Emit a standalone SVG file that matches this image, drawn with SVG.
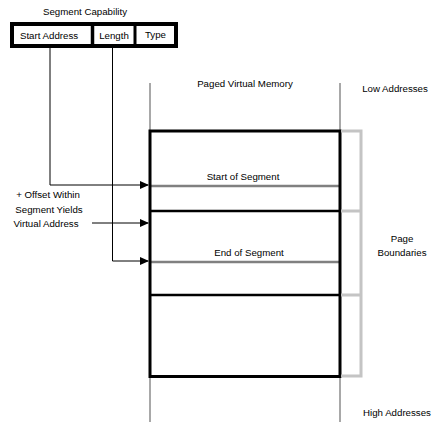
<svg xmlns="http://www.w3.org/2000/svg" width="442" height="437" viewBox="0 0 442 437">
<style>
text{font-family:"Liberation Sans",Arial,sans-serif;font-size:9.7px;fill:#000}
.c{text-anchor:middle}
.conn{fill:none;stroke:#000;stroke-width:1}
.gv{stroke:#a8a8a8;stroke-width:2;fill:none}
.seg{stroke:#808080;stroke-width:2.5;fill:none}
.br{stroke:#c4c4c4;stroke-width:3;fill:none}
.blk{stroke:#000;fill:none}
</style>
<defs>
<marker id="ah" markerWidth="9" markerHeight="8" refX="8" refY="4" orient="auto" markerUnits="userSpaceOnUse">
<path d="M0,0 L9,4 L0,8 Z" fill="#000"/>
</marker>
</defs>
<rect width="442" height="437" fill="#fff"/>
<g id="capability">
<text class="c" x="85" y="15">Segment Capability</text>
<rect class="blk" x="12" y="24" width="164" height="22" stroke-width="4"/>
<line class="blk" x1="92.5" y1="24" x2="92.5" y2="46" stroke-width="3.5"/>
<line class="blk" x1="135" y1="24" x2="135" y2="46" stroke-width="3"/>
<text class="c" x="49" y="39">Start Address</text>
<text class="c" x="114" y="39">Length</text>
<text class="c" x="155.5" y="38">Type</text>
</g>
<g id="memory">
<text class="c" x="245" y="87">Paged Virtual Memory</text>
<line class="gv" x1="150" y1="83" x2="150" y2="131"/>
<line class="gv" x1="340" y1="83" x2="340" y2="131"/>
<line class="gv" x1="150" y1="376" x2="150" y2="422"/>
<line class="gv" x1="340" y1="376" x2="340" y2="422"/>
<line class="seg" x1="151" y1="186" x2="340" y2="186"/>
<line class="seg" x1="151" y1="262" x2="340" y2="262"/>
<rect class="blk" x="150" y="131" width="190" height="245.5" stroke-width="3"/>
<line class="blk" x1="150" y1="211" x2="340" y2="211" stroke-width="2.5"/>
<line class="blk" x1="150" y1="295" x2="340" y2="295" stroke-width="2.5"/>
<text class="c" x="243" y="180">Start of Segment</text>
<text class="c" x="249" y="256">End of Segment</text>
</g>
<g id="pages">
<path class="br" d="M341,131 H361 V376 H341 M341,211 H361 M341,295 H361"/>
<text class="c" x="402" y="242">Page</text>
<text class="c" x="402" y="256">Boundaries</text>
</g>
<g id="low"><text class="c" x="395" y="92">Low Addresses</text></g>
<g id="high"><text class="c" x="397" y="416">High Addresses</text></g>
<g id="offset">
<text class="c" x="48" y="198">+ Offset Within</text>
<text class="c" x="49" y="213">Segment Yields</text>
<text class="c" x="46" y="227">Virtual Address</text>
</g>
<g id="connectors">
<path class="conn" d="M50,46 V185 H148" marker-end="url(#ah)"/>
<path class="conn" d="M112.5,46 V261 H148" marker-end="url(#ah)"/>
<path class="conn" d="M92,223 H148" marker-end="url(#ah)"/>
</g>
</svg>
